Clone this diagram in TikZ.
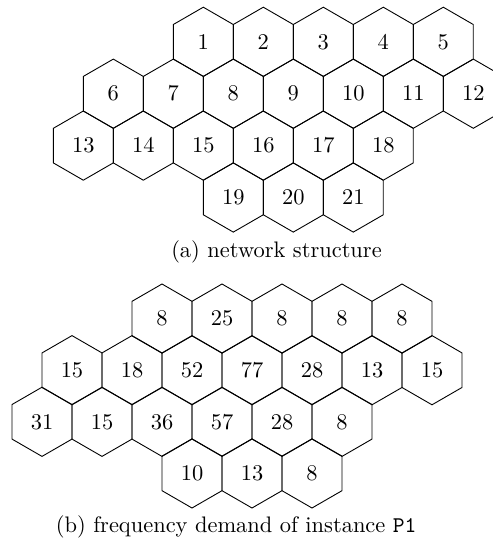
\documentclass[tikz,border=0pt]{standalone}
\usepackage{amssymb}
\usepackage{amsmath}
\usepackage{tikz}
\usetikzlibrary{shapes.geometric,positioning}

\begin{document}
\begin{tikzpicture}[x=0.4454pt,y=-0.4454pt,thin]
\tikzstyle{hex node}=[regular polygon,regular polygon sides=6,shape border rotate=30,draw,minimum size=30.82pt,inner sep=0,outer sep=0]
\tikzstyle{caption node}=[anchor=base]

\useasboundingbox (0,0) rectangle (493,540);
\clip (0,0) rectangle (493,540);

% (a) network structure
    \node[hex node] (a1) at (203.3,41.8) {$1$};
    \node[hex node] (a2) at (263.3,41.8) {$2$};
    \node[hex node] (a3) at (323.3,41.8) {$3$};
    \node[hex node] (a4) at (383.3,41.8) {$4$};
    \node[hex node] (a5) at (443.3,41.8) {$5$};
    \node[hex node] (a6) at (113.3,93.7) {$6$};
    \node[hex node] (a7) at (173.3,93.7) {$7$};
    \node[hex node] (a8) at (233.3,93.7) {$8$};
    \node[hex node] (a9) at (293.3,93.7) {$9$};
    \node[hex node] (a10) at (353.3,93.7) {$10$};
    \node[hex node] (a11) at (413.3,93.7) {$11$};
    \node[hex node] (a12) at (473.3,93.7) {$12$};
    \node[hex node] (a13) at (83.3,145.6) {$13$};
    \node[hex node] (a14) at (143.3,145.6) {$14$};
    \node[hex node] (a15) at (203.3,145.6) {$15$};
    \node[hex node] (a16) at (263.3,145.6) {$16$};
    \node[hex node] (a17) at (323.3,145.6) {$17$};
    \node[hex node] (a18) at (383.3,145.6) {$18$};
    \node[hex node] (a19) at (233.3,197.5) {$19$};
    \node[hex node] (a20) at (293.3,197.5) {$20$};
    \node[hex node] (a21) at (353.3,197.5) {$21$};
    \node[caption node] (capa) at (276.5,257.5) {(a) network structure};

% (b) frequency demand
    \node[hex node] (b1) at (162,318.6) {$8$};
    \node[hex node] (b2) at (222,318.6) {$25$};
    \node[hex node] (b3) at (282,318.6) {$8$};
    \node[hex node] (b4) at (342,318.6) {$8$};
    \node[hex node] (b5) at (402,318.6) {$8$};
    \node[hex node] (b6) at (72,370.2) {$15$};
    \node[hex node] (b7) at (132,370.2) {$18$};
    \node[hex node] (b8) at (192,370.2) {$52$};
    \node[hex node] (b9) at (252,370.2) {$77$};
    \node[hex node] (b10) at (312,370.2) {$28$};
    \node[hex node] (b11) at (372,370.2) {$13$};
    \node[hex node] (b12) at (432,370.2) {$15$};
    \node[hex node] (b13) at (42,421.8) {$31$};
    \node[hex node] (b14) at (102,421.8) {$15$};
    \node[hex node] (b15) at (162,421.8) {$36$};
    \node[hex node] (b16) at (222,421.8) {$57$};
    \node[hex node] (b17) at (282,421.8) {$28$};
    \node[hex node] (b18) at (342,421.8) {$8$};
    \node[hex node] (b19) at (192,473.4) {$10$};
    \node[hex node] (b20) at (252,473.4) {$13$};
    \node[hex node] (b21) at (312,473.4) {$8$};
    \node[caption node] (capb) at (236.2,532.3) {(b) frequency demand of instance \texttt{P1}};
\end{tikzpicture}
\end{document}
